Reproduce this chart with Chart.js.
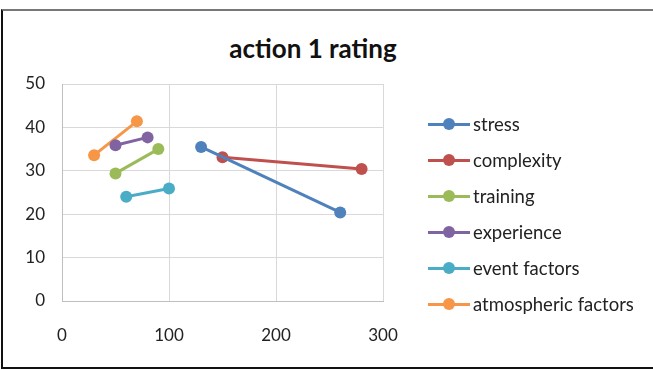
<!DOCTYPE html>
<html>
<head>
<meta charset="utf-8">
<script src="https://cdn.jsdelivr.net/npm/chart.js@4.4.1/dist/chart.umd.min.js"></script>
<style>
  html, body { margin: 0; padding: 0; background: #fff; }
  #wrap { position: relative; width: 653px; height: 370px; overflow: hidden; font-family: Lato, "Open Sans", sans-serif; }
  #frame { position: absolute; left: 1px; top: 9px; width: 660px; height: 356px;
           border-left: 2px solid #111; border-bottom: 2px solid #111; border-top: 2px solid #777; }
  #title { position: absolute; left: 0; width: 626px; top: 32px; text-align: center;
           font-size: 26px; font-weight: bold; color: #111; }
  #legend { position: absolute; left: 428px; top: 114px; }
  .item { height: 36px; display: flex; align-items: flex-start; }
  .sw { position: relative; width: 42px; height: 20px; }
  .sw .ln { position: absolute; left: 0; top: 9px; width: 42px; height: 3px; }
  .sw .dt { position: absolute; left: 15px; top: 4px; width: 12px; height: 12px; border-radius: 50%; }
  .lb { margin-left: 3px; font-size: 18.5px; line-height: 20px; color: #222; }
  canvas { position: absolute; left: 0; top: 0; }
</style>
</head>
<body>
<div id="wrap">
  <div id="frame"></div>
  <div id="title">action 1 rating</div>
  <canvas id="chart" width="653" height="370"></canvas>
  <div id="legend"></div>
</div>
<script>
// series names and colours
const seriesNames = ['stress', 'complexity', 'training', 'experience', 'event factors', 'atmospheric factors'];
const seriesColors = ['#4F81BD', '#C0504D', '#9BBB59', '#8064A2', '#4BACC6', '#F79646'];

// x / y values of each series (two points each)
const stressX = [130, 260];
const stressY = [35.5, 20.4];
const complexityX = [150, 280];
const complexityY = [33.1, 30.4];
const trainingX = [50, 90];
const trainingY = [29.4, 35.0];
const experienceX = [50, 80];
const experienceY = [35.9, 37.7];
const eventX = [60, 100];
const eventY = [24.0, 25.9];
const atmosX = [30, 70];
const atmosY = [33.6, 41.4];

const xTicks = [0, 100, 200, 300];
const yTicks = [0, 10, 20, 30, 40, 50];

const allX = [stressX, complexityX, trainingX, experienceX, eventX, atmosX];
const allY = [stressY, complexityY, trainingY, experienceY, eventY, atmosY];

function toPoints(xs, ys) {
    return xs.map((x, i) => ({ x: x, y: ys[i] }));
}

const datasets = seriesNames.map((name, i) => ({
    label: name,
    data: toPoints(allX[i], allY[i]),
    showLine: true,
    borderColor: seriesColors[i],
    backgroundColor: seriesColors[i],
    borderWidth: 3,
    pointRadius: 6,
    pointHoverRadius: 6,
    pointBorderWidth: 0
}));

/* ===== legend (html) ===== */
const legendEl = document.getElementById('legend');
seriesNames.forEach((name, i) => {
    const row = document.createElement('div');
    row.className = 'item';
    row.innerHTML = '<div class="sw"><div class="ln" style="background:' + seriesColors[i] + '"></div>' +
        '<div class="dt" style="background:' + seriesColors[i] + '"></div></div>' +
        '<div class="lb">' + name + '</div>';
    legendEl.appendChild(row);
});

const tickFont = { family: 'Lato, "Open Sans", sans-serif', size: 17 };

new Chart(document.getElementById('chart'), {
    type: 'scatter',
    data: { datasets: datasets },
    options: {
        responsive: false,
        animation: false,
        layout: { padding: { left: 0, top: 84, right: 270, bottom: 0 } },
        plugins: { legend: { display: false }, tooltip: { enabled: false } },
        scales: {
            x: {
                min: 0, max: 300,
                afterFit: (s) => { s.height = 69; },
                afterBuildTicks: (s) => { s.ticks = xTicks.map(v => ({ value: v })); },
                grid: { color: '#d9d9d9', lineWidth: 1, drawTicks: false },
                border: { color: '#bfbfbf', width: 1 },
                ticks: { color: '#222', font: tickFont, padding: 24, maxRotation: 0 }
            },
            y: {
                min: 0, max: 50,
                afterFit: (s) => { s.width = 62; },
                afterBuildTicks: (s) => { s.ticks = yTicks.map(v => ({ value: v })); },
                grid: { color: '#d9d9d9', lineWidth: 1, drawTicks: false },
                border: { color: '#bfbfbf', width: 1 },
                ticks: { color: '#222', font: tickFont, padding: 17 }
            }
        }
    }
});
</script>
</body>
</html>
